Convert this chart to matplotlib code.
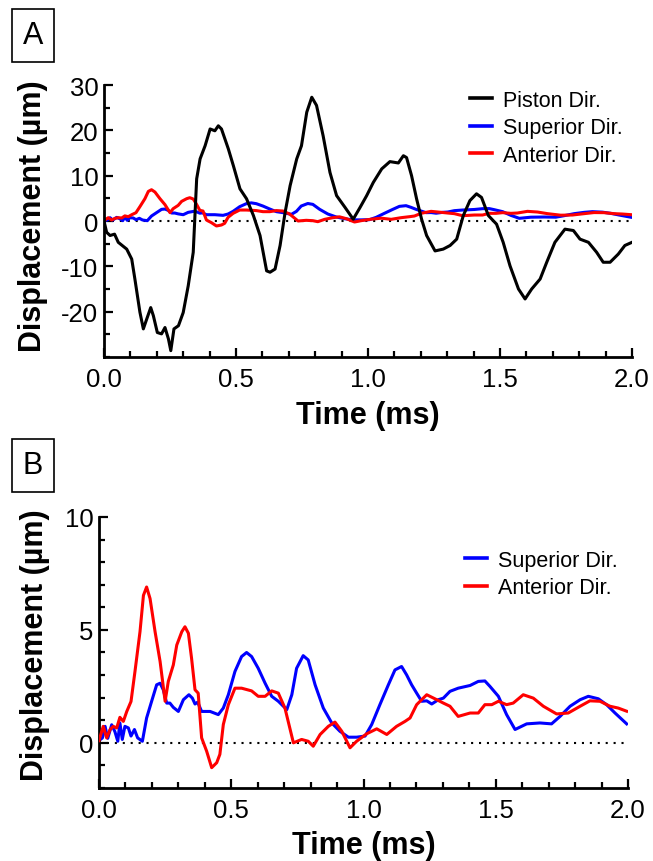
import matplotlib
matplotlib.use("Agg")
import matplotlib.pyplot as plt
from matplotlib.patches import Rectangle
from matplotlib.ticker import MultipleLocator

plt.rcParams['font.family'] = ['Liberation Sans', 'DejaVu Sans']
plt.rcParams['axes.unicode_minus'] = False

# ---- data (time in ms, displacement in µm) ----
piston_t = [0.0, 0.01, 0.023, 0.04, 0.054, 0.086, 0.105, 0.117, 0.136, 0.149, 0.162, 0.177, 0.187, 0.202,
            0.218, 0.231, 0.244, 0.253, 0.265, 0.282, 0.3, 0.319, 0.338, 0.351, 0.364, 0.383, 0.402, 0.42,
            0.433, 0.445, 0.471, 0.49, 0.515, 0.54, 0.566, 0.591, 0.616, 0.629, 0.648, 0.667, 0.686, 0.705,
            0.73, 0.748, 0.768, 0.787, 0.805, 0.83, 0.856, 0.881, 0.913, 0.944, 0.97, 0.995, 1.02, 1.052,
            1.083, 1.115, 1.134, 1.146, 1.165, 1.184, 1.203, 1.222, 1.254, 1.285, 1.311, 1.336, 1.361,
            1.386, 1.411, 1.43, 1.456, 1.487, 1.512, 1.538, 1.57, 1.595, 1.62, 1.652, 1.677, 1.708, 1.746,
            1.778, 1.803, 1.835, 1.866, 1.891, 1.917, 1.948, 1.973, 2.0]
piston_v = [0.0, -2.5, -3.2, -2.9, -4.7, -6.2, -8.4, -12.8, -20.1, -23.8, -21.6, -19.1, -20.9, -24.6,
            -24.9, -23.5, -26, -28.6, -23.8, -23.1, -20.2, -14.3, -6.9, 9.3, 13.7, 16.6, 20.3, 19.9,
            21, 20.3, 15.9, 12.2, 7.1, 4.9, 1.2, -3.2, -11, -11.3, -10.6, -5.4, 1.9, 7.8,
            13.7, 16.6, 24, 27.3, 25.5, 18.8, 10.7, 5.6, 3, 0.4, 3, 5.6, 8.5, 11.5,
            13.1, 12.8, 14.4, 14, 10, 4.9, 0.4, -3.2, -6.6, -6.2, -5.4, -4, 1.2,
            4.5, 6, 5.2, 1.2, -0.7, -4.7, -9.9, -15, -17.2, -15, -12.8, -9.1, -4.7, -1.8,
            -2.1, -4, -4.7, -6.9, -9.1, -9.1, -7.3, -5.4, -4.7]

sup_t = [0.0, 0.013, 0.023, 0.033, 0.048, 0.06, 0.071, 0.079, 0.088, 0.098, 0.111, 0.121, 0.134, 0.146,
         0.164, 0.18, 0.199, 0.218, 0.231, 0.243, 0.256, 0.268, 0.281, 0.3, 0.319, 0.34, 0.353, 0.363,
         0.373, 0.388, 0.42, 0.451, 0.47, 0.489, 0.514, 0.539, 0.558, 0.577, 0.602, 0.628, 0.653, 0.678,
         0.71, 0.729, 0.747, 0.772, 0.791, 0.817, 0.848, 0.88, 0.911, 0.943, 0.974, 1.006, 1.031, 1.062,
         1.094, 1.119, 1.144, 1.163, 1.182, 1.201, 1.22, 1.239, 1.258, 1.283, 1.302, 1.327, 1.358, 1.403,
         1.434, 1.459, 1.478, 1.51, 1.541, 1.573, 1.617, 1.667, 1.711, 1.743, 1.781, 1.819, 1.85, 1.888,
         1.919, 1.951, 1.995]
sup_v = [0.1, 0.22, 0.73, 0.2, 0.8, 0.5, 0.07, 0.88, 0.15, 0.73, 0.66, 0.3, 0.59, 0.22,
         0.07, 1.1, 1.84, 2.57, 2.64, 2.35, 1.76, 1.76, 1.57, 1.39, 1.91, 2.13, 1.98, 1.72,
         1.8, 1.39, 1.39, 1.25, 1.54, 2.13, 3.16, 3.82, 4.0, 3.82, 3.3, 2.64, 2.06, 1.84,
         1.47, 2.13, 3.3, 3.86, 3.67, 2.57, 1.54, 0.88, 0.51, 0.25, 0.25, 0.3, 0.81, 1.69,
         2.57, 3.23, 3.38, 3.01, 2.57, 2.2, 1.84, 1.86, 1.72, 1.91, 1.98, 2.28, 2.42, 2.54,
         2.72, 2.74, 2.5, 2.06, 1.25, 0.59, 0.84, 0.88, 0.84, 1.17, 1.62, 1.91, 2.06, 1.95,
         1.69, 1.32, 0.84]

ant_t = [0.0, 0.016, 0.029, 0.042, 0.054, 0.067, 0.079, 0.092, 0.105, 0.121, 0.136, 0.155, 0.168, 0.18,
         0.193, 0.212, 0.231, 0.25, 0.262, 0.281, 0.294, 0.313, 0.325, 0.338, 0.35, 0.363, 0.375, 0.388,
         0.407, 0.426, 0.445, 0.457, 0.47, 0.489, 0.514, 0.539, 0.577, 0.602, 0.628, 0.653, 0.678, 0.703,
         0.735, 0.766, 0.791, 0.81, 0.836, 0.867, 0.892, 0.918, 0.949, 0.974, 1.012, 1.05, 1.088, 1.125,
         1.157, 1.176, 1.201, 1.239, 1.277, 1.302, 1.327, 1.358, 1.403, 1.434, 1.459, 1.485, 1.51, 1.541,
         1.566, 1.604, 1.642, 1.68, 1.73, 1.774, 1.819, 1.856, 1.894, 1.932, 1.963, 1.995]
ant_v = [0.1, 0.73, 0.22, 0.59, 0.73, 0.66, 1.13, 0.95, 1.39, 1.83, 3.16, 4.92, 6.53, 6.9,
         6.39, 4.92, 3.6, 1.84, 2.72, 3.45, 4.33, 4.92, 5.14, 4.85, 3.74, 2.35, 2.2, 0.22,
         -0.37, -1.1, -0.88, -0.51, 0.81, 1.69, 2.42, 2.42, 2.3, 2.06, 2.06, 2.3, 2.2, 1.54,
         0.0, 0.15, 0.07, -0.15, 0.37, 0.73, 0.92, 0.51, -0.22, 0.07, 0.4, 0.62, 0.37, 0.73,
         0.95, 1.1, 1.69, 2.13, 1.91, 1.76, 1.62, 1.17, 1.32, 1.32, 1.69, 1.69, 1.84, 1.69,
         1.76, 2.13, 1.98, 1.62, 1.28, 1.32, 1.62, 1.86, 1.84, 1.62, 1.54, 1.4]

x_ticks = [0.0, 0.5, 1.0, 1.5, 2.0]
x_ticklabels = ["0.0", "0.5", "1.0", "1.5", "2.0"]
yA_ticks = [-20, -10, 0, 10, 20, 30]
yB_ticks = [0, 5, 10]

label_piston = "Piston Dir."
label_sup = "Superior Dir."
label_ant = "Anterior Dir."
xlabel = "Time (ms)"
ylabel = "Displacement (µm)"

W, H = 653, 862
fig = plt.figure(figsize=(W / 100, H / 100), dpi=100)


def fx(px):
    return px / W


def fy(py):
    return 1 - py / H


axA = fig.add_axes([fx(104), fy(358), fx(632) - fx(104), fy(86) - fy(358)])
axB = fig.add_axes([fx(99), fy(789), fx(628) - fx(99), fy(518) - fy(789)])

LW = 2.2
for ax in (axA, axB):
    ax.axhline(0, color='black', lw=1.5, ls=(0, (1, 2.8)), zorder=1)

axA.plot(piston_t, piston_v, color='black', lw=LW, label=label_piston, zorder=3)
axA.plot(sup_t, sup_v, color='#0000FF', lw=LW, label=label_sup, zorder=2)
axA.plot(ant_t, ant_v, color='#FF0000', lw=LW, label=label_ant, zorder=2)

axB.plot(sup_t, sup_v, color='#0000FF', lw=LW, label=label_sup, zorder=2)
axB.plot(ant_t, ant_v, color='#FF0000', lw=LW, label=label_ant, zorder=3)

axA.set_ylim(-30, 30)
axA.set_yticks(yA_ticks)
axA.yaxis.set_minor_locator(MultipleLocator(5))
axB.set_ylim(-2, 10)
axB.set_yticks(yB_ticks)
axB.yaxis.set_minor_locator(MultipleLocator(1))

for ax in (axA, axB):
    ax.set_xlim(0, 2.0)
    ax.set_xticks(x_ticks)
    ax.set_xticklabels(x_ticklabels)
    ax.xaxis.set_minor_locator(MultipleLocator(0.1))
    for s in ('top', 'right'):
        ax.spines[s].set_visible(False)
    for s in ('left', 'bottom'):
        ax.spines[s].set_linewidth(2.0)
    ax.tick_params(which='both', direction='in', width=1.6, labelsize=18.5)
    ax.tick_params(which='major', length=6.5)
    ax.tick_params(which='minor', length=4)
    ax.tick_params(axis='x', pad=7)
    ax.tick_params(axis='y', pad=4)

legA = axA.legend(loc='upper left', bbox_to_anchor=(fx(470), fy(91)), bbox_transform=fig.transFigure,
                  frameon=False, fontsize=15.5, handlelength=1.0, handletextpad=0.55,
                  labelspacing=0.3, borderpad=0, borderaxespad=0)
legB = axB.legend(loc='upper left', bbox_to_anchor=(fx(465), fy(551)), bbox_transform=fig.transFigure,
                  frameon=False, fontsize=15.5, handlelength=1.0, handletextpad=0.55,
                  labelspacing=0.3, borderpad=0, borderaxespad=0)
for leg in (legA, legB):
    for h in leg.legend_handles:
        h.set_linewidth(2.6)

# axis labels
fig.text(fx(368), fy(424), xlabel, ha='center', va='baseline', fontsize=22, fontweight='bold')
fig.text(fx(364), fy(854), xlabel, ha='center', va='baseline', fontsize=22, fontweight='bold')
fig.text(fx(33), fy(216), ylabel, ha='center', va='center', rotation=90, fontsize=22, fontweight='bold')
fig.text(fx(35), fy(645), ylabel, ha='center', va='center', rotation=90, fontsize=22, fontweight='bold')

# panel letters in boxes
for letter, top in (("A", 10), ("B", 440)):
    fig.add_artist(Rectangle((fx(12), fy(top + 53)), fx(42), 53 / H, transform=fig.transFigure,
                             fill=False, lw=1.2, edgecolor='black'))
    fig.text(fx(33), fy(top + 26.5), letter, ha='center', va='center', fontsize=22)

fig.savefig("out.png", dpi=100)
